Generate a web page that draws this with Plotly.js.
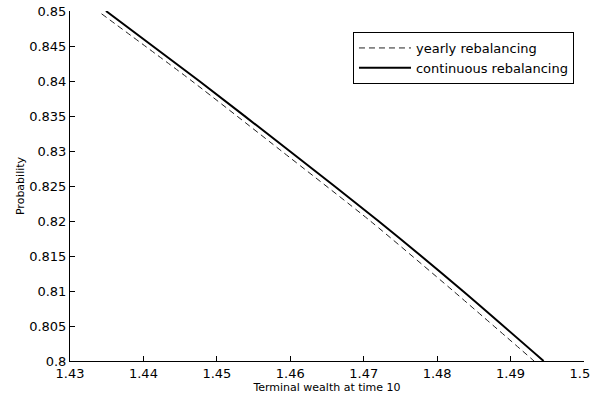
<!DOCTYPE html>
<html>
<head>
<meta charset="utf-8">
<script src="https://cdn.plot.ly/plotly-3.0.1.min.js"></script>
<style>html,body{margin:0;padding:0;background:#fff;}#chart{width:592px;height:407px;}</style>
</head>
<body>
<div id="chart"></div>
<script>
// Yearly rebalancing (dashed)
const yearlyWealth = [1.4343, 1.4466, 1.4588, 1.4709, 1.4822, 1.4932];
const yearlyProb   = [0.8496, 0.840, 0.830, 0.820, 0.810, 0.800];
// Continuous rebalancing (solid)
const contWealth = [1.4349, 1.4476, 1.4599, 1.4720, 1.4835, 1.4945];
const contProb   = [0.850, 0.840, 0.830, 0.820, 0.810, 0.800];

const xTickVals = [1.43, 1.44, 1.45, 1.46, 1.47, 1.48, 1.49, 1.5];
const xTickText = ["1.43", "1.44", "1.45", "1.46", "1.47", "1.48", "1.49", "1.5&nbsp;&nbsp;"];
const yTickVals = [0.8, 0.805, 0.81, 0.815, 0.82, 0.825, 0.83, 0.835, 0.84, 0.845, 0.85];
const yTickText = ["0.8", "0.805", "0.81", "0.815", "0.82", "0.825", "0.83", "0.835", "0.84", "0.845", "0.85"];

const FONT = "DejaVu Sans, Arial, sans-serif";

const traces = [
  {
    x: yearlyWealth, y: yearlyProb, mode: "lines", name: "yearly rebalancing",
    line: {color: "#222", width: 1, dash: "6px,4px", shape: "spline", smoothing: 0.6}
  },
  {
    x: contWealth, y: contProb, mode: "lines", name: "continuous rebalancing",
    line: {color: "#000", width: 2, shape: "spline", smoothing: 0.6}
  }
];

const layout = {
  width: 592, height: 407,
  margin: {l: 70, r: 8, t: 11, b: 46},
  paper_bgcolor: "#fff", plot_bgcolor: "#fff",
  font: {family: FONT, size: 12, color: "#000"},
  showlegend: true,
  legend: {
    x: 0.9805, y: 0.94, xanchor: "right", yanchor: "top",
    bordercolor: "#000", borderwidth: 1, bgcolor: "#fff",
    font: {family: FONT, size: 13, color: "#000"},
    itemwidth: 52,
    tracegroupgap: 0
  },
  xaxis: {
    range: [1.43, 1.5000001], tickvals: xTickVals, ticktext: xTickText,
    ticks: "inside", ticklen: 5, tickcolor: "#000",
    ticklabeloverflow: "allow",
    showline: true, linecolor: "#000", linewidth: 1, mirror: false,
    showgrid: false, zeroline: false,
    tickfont: {family: FONT, size: 13, color: "#000"},
    title: {text: "Terminal wealth at time 10", font: {family: FONT, size: 11, color: "#000"}, standoff: 3}
  },
  yaxis: {
    range: [0.8, 0.85], tickvals: yTickVals, ticktext: yTickText,
    ticks: "inside", ticklen: 5, tickcolor: "#000",
    ticklabeloverflow: "allow",
    showline: true, linecolor: "#000", linewidth: 1, mirror: false,
    showgrid: false, zeroline: false,
    tickfont: {family: FONT, size: 13, color: "#000"},
    title: {text: "Probability", font: {family: FONT, size: 11, color: "#000"}, standoff: 2}
  }
};

Plotly.newPlot("chart", traces, layout, {staticPlot: true, displayModeBar: false});
</script>
</body>
</html>
